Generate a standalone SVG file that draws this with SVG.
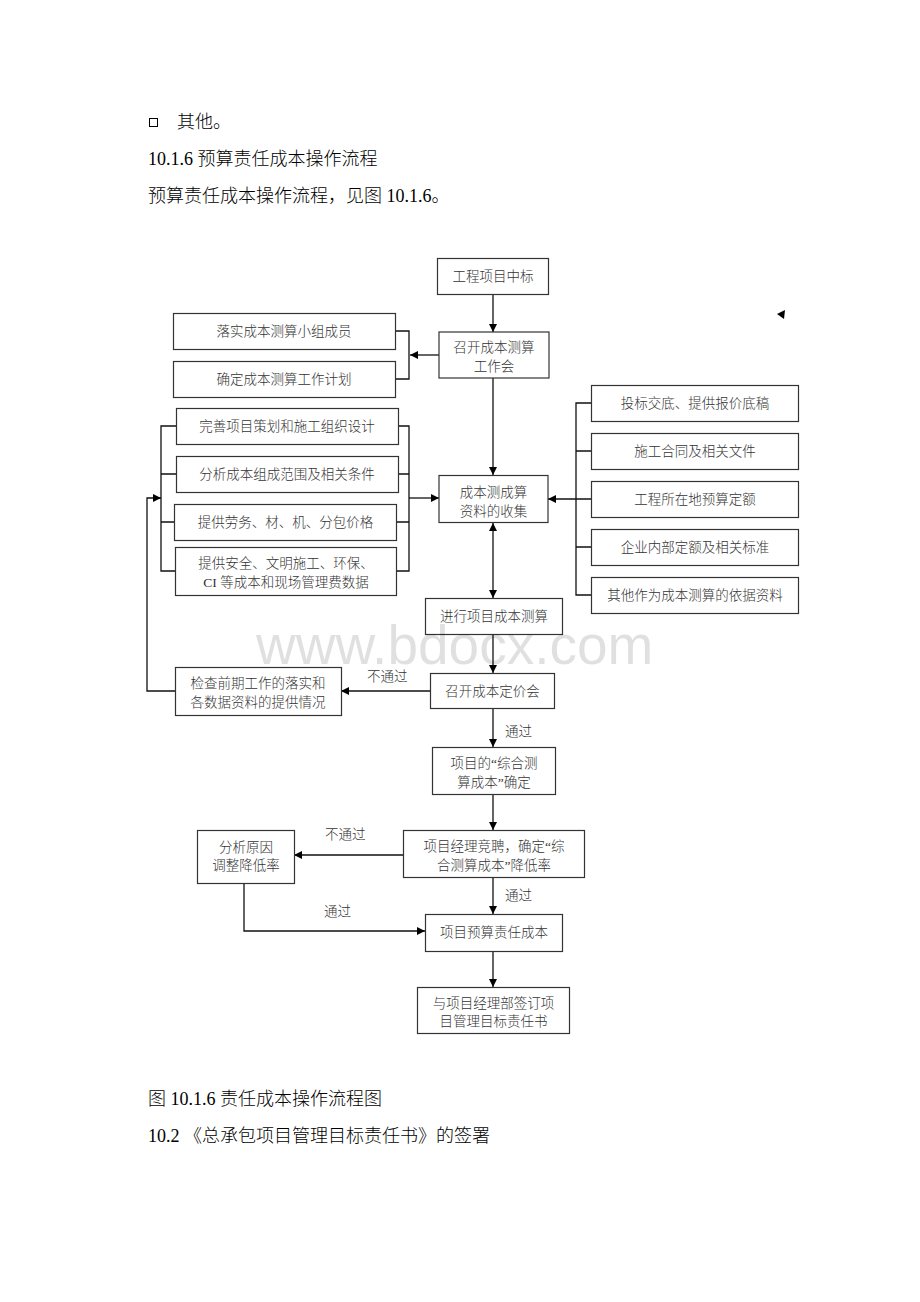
<svg xmlns="http://www.w3.org/2000/svg" width="920" height="1302" viewBox="0 0 920 1302">
<style>
.doc{font-family:"Liberation Serif","Noto Sans CJK SC",serif;font-size:18px;font-weight:300;fill:#000}
.box rect{fill:#fff;stroke:#333;stroke-width:1.2}
.box text,.lbl{font-family:"Liberation Serif","Noto Sans CJK SC",sans-serif;font-size:13.5px;font-weight:300;fill:#333;text-anchor:middle;dominant-baseline:central}
.lbl{text-anchor:start}
#connectors path{fill:none;stroke:#111;stroke-width:1.3}
.wm{font-family:"Liberation Sans",Arial,sans-serif;font-size:55px;fill:#000;fill-opacity:0.12}
</style>
<defs>
<marker id="ah" viewBox="0 0 10 10" refX="10" refY="5" markerWidth="9" markerHeight="8" markerUnits="userSpaceOnUse" orient="auto-start-reverse">
<path d="M0,0 L10,5 L0,10 z" fill="#000"/>
</marker>
</defs>
<rect x="0" y="0" width="920" height="1302" fill="#fff"/>

<g id="header">
<rect x="149.5" y="118.5" width="8" height="8" fill="none" stroke="#000" stroke-width="1"/>
<text class="doc" x="177" y="128">其他。</text>
<text class="doc" x="148" y="165">10.1.6 预算责任成本操作流程</text>
<text class="doc" x="148" y="202">预算责任成本操作流程，见图 10.1.6。</text>
</g>

<g id="connectors">
<path d="M493,294 V332" marker-end="url(#ah)"/>
<path d="M439,355 H410" marker-end="url(#ah)"/>
<path d="M395,331 H409 V379 H395"/>
<path d="M493,378 V475" marker-end="url(#ah)"/>
<path d="M398,426 H409 V571 H397 M398,474 H409 M397,522 H409"/>
<path d="M409,498 H439" marker-end="url(#ah)"/>
<path d="M176,426 H161 V571 H175 M176,474 H161 M174,522 H161"/>
<path d="M175,691 H147 V498 H161" marker-end="url(#ah)"/>
<path d="M591,403 H576 V595 H591 M591,451 H576 M591,547 H576"/>
<path d="M591,499 H548" marker-end="url(#ah)"/>
<path d="M493,523 V598" marker-start="url(#ah)" marker-end="url(#ah)"/>
<path d="M493,634 V673" marker-end="url(#ah)"/>
<path d="M430,691 H341" marker-end="url(#ah)"/>
<path d="M493,708 V747" marker-end="url(#ah)"/>
<path d="M493,794 V830" marker-end="url(#ah)"/>
<path d="M403,855 H294" marker-end="url(#ah)"/>
<path d="M493,877 V914" marker-end="url(#ah)"/>
<path d="M244,883 V931 H425" marker-end="url(#ah)"/>
<path d="M493,951 V987" marker-end="url(#ah)"/>
<text class="lbl" x="367" y="676">不通过</text>
<text class="lbl" x="505" y="731">通过</text>
<text class="lbl" x="325" y="834">不通过</text>
<text class="lbl" x="505" y="895">通过</text>
<text class="lbl" x="324" y="911">通过</text>
</g>

<g id="n1" class="box"><rect x="437.5" y="258.5" width="111" height="36"/><text x="493" y="276">工程项目中标</text></g>
<g id="n2" class="box"><rect x="439" y="332" width="110" height="46"/><text x="494" y="347">召开成本测算</text><text x="494" y="366">工作会</text></g>
<g id="n3" class="box"><rect x="173.5" y="313.5" width="222" height="36"/><text x="284" y="331">落实成本测算小组成员</text></g>
<g id="n4" class="box"><rect x="173.5" y="361.5" width="222" height="36"/><text x="284" y="379">确定成本测算工作计划</text></g>
<g id="n5" class="box"><rect x="176.5" y="408.5" width="222" height="36"/><text x="287" y="426">完善项目策划和施工组织设计</text></g>
<g id="n6" class="box"><rect x="176.5" y="456.5" width="222" height="36"/><text x="287" y="474">分析成本组成范围及相关条件</text></g>
<g id="n7" class="box"><rect x="174.5" y="504.5" width="222" height="36"/><text x="285.5" y="522">提供劳务、材、机、分包价格</text></g>
<g id="n8" class="box"><rect x="175.5" y="547.5" width="221" height="48"/><text x="286" y="563">提供安全、文明施工、环保、</text><text x="286" y="582">CI 等成本和现场管理费数据</text></g>
<g id="n9" class="box"><rect x="439" y="475.5" width="109" height="47"/><text x="493.5" y="492">成本测成算</text><text x="493.5" y="511">资料的收集</text></g>
<g id="n10" class="box"><rect x="591.5" y="385.5" width="207" height="36"/><text x="695" y="403">投标交底、提供报价底稿</text></g>
<g id="n11" class="box"><rect x="591.5" y="433.5" width="207" height="36"/><text x="695" y="451">施工合同及相关文件</text></g>
<g id="n12" class="box"><rect x="591.5" y="481.5" width="207" height="36"/><text x="695" y="499">工程所在地预算定额</text></g>
<g id="n13" class="box"><rect x="591.5" y="529.5" width="207" height="36"/><text x="695" y="547">企业内部定额及相关标准</text></g>
<g id="n14" class="box"><rect x="591.5" y="577.5" width="207" height="36"/><text x="695" y="595">其他作为成本测算的依据资料</text></g>
<g id="n15" class="box"><rect x="425.5" y="598.5" width="137" height="36"/><text x="494" y="616">进行项目成本测算</text></g>
<g id="n16" class="box"><rect x="175.5" y="667.5" width="166" height="48"/><text x="258" y="683">检查前期工作的落实和</text><text x="258" y="702">各数据资料的提供情况</text></g>
<g id="n17" class="box"><rect x="430.5" y="673.5" width="124" height="35"/><text x="492.5" y="691">召开成本定价会</text></g>
<g id="n18" class="box"><rect x="432.5" y="747.5" width="123" height="47"/><text x="494" y="763">项目的“综合测</text><text x="494" y="782">算成本”确定</text></g>
<g id="n19" class="box"><rect x="197.5" y="830.5" width="97" height="53"/><text x="246" y="847">分析原因</text><text x="246" y="865">调整降低率</text></g>
<g id="n20" class="box"><rect x="403.5" y="830.5" width="181" height="47"/><text x="494" y="846">项目经理竞聘，确定“综</text><text x="494" y="865">合测算成本”降低率</text></g>
<g id="n21" class="box"><rect x="425.5" y="914.5" width="137" height="37"/><text x="494" y="932">项目预算责任成本</text></g>
<g id="n22" class="box"><rect x="417.5" y="987.5" width="152" height="46"/><text x="493.5" y="1003">与项目经理部签订项</text><text x="493.5" y="1021">目管理目标责任书</text></g>

<polygon points="777,314 785,310 784,319" fill="#000"/>

<text class="wm" x="256" y="664">www.bdocx.com</text>

<g id="footer">
<text class="doc" x="148" y="1105">图 10.1.6 责任成本操作流程图</text>
<text class="doc" x="148" y="1142">10.2 《总承包项目管理目标责任书》的签署</text>
</g>
</svg>
